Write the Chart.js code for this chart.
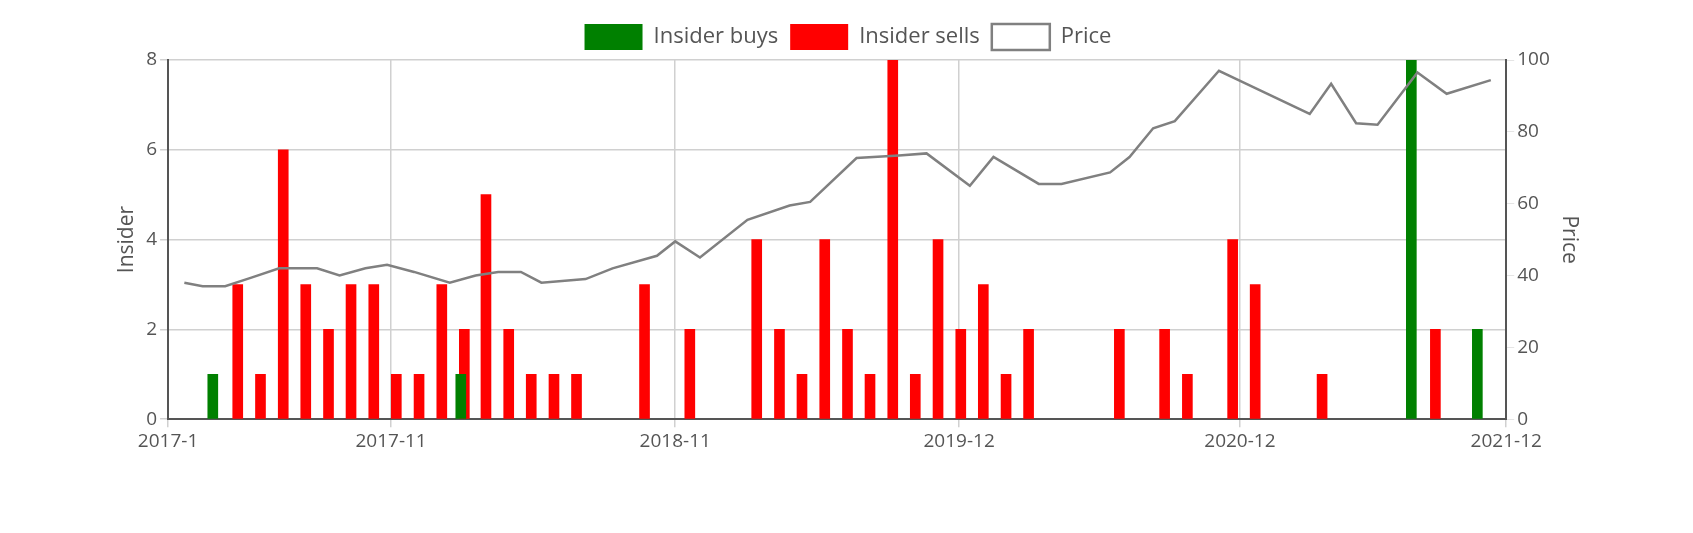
<!DOCTYPE html>
<html><head><meta charset="utf-8">
<script src="https://cdn.jsdelivr.net/npm/chart.js@4"></script>
<style>html,body{margin:0;background:#fff}#w{width:1693px;height:533px}</style>
</head><body><div id="w"><canvas id="c"></canvas></div>
<script>
const tickPos=[0,10,22.74,35.47,48.06,60];
const tickLabels=['2017-1','2017-11','2018-11','2019-12','2020-12','2021-12'];
const buyX=[2.23,13.35,55.97,58.93];
const buyY=[1,1,8,2];
const sellX=[2.9,3.92,4.94,5.95,6.97,7.98,9.0,10.01,11.03,12.05,13.06,14.03,15.05,16.06,17.08,18.09,21.14,23.17,26.17,27.19,28.2,29.22,30.24,31.25,32.27,33.28,34.3,35.32,36.33,37.35,38.36,42.43,44.46,45.48,47.51,48.52,51.52,56.6];
const sellY=[3,1,6,3,2,3,3,1,1,3,2,5,2,1,1,1,3,2,4,2,1,4,2,1,8,1,4,2,3,1,2,2,2,1,4,3,1,2];
const priceX=[0.73,1.55,2.56,3.77,4.98,5.95,6.68,7.69,8.85,9.82,11.03,12.63,13.79,14.8,15.82,16.74,18.72,19.93,21.92,22.74,23.85,25.98,27.87,28.79,30.87,32.77,34.01,35.95,37.01,39.04,40.06,42.24,43.11,44.17,45.14,47.12,48.14,51.19,52.15,53.27,54.23,56.02,57.33,59.31];
const priceY=[38,37,37,39.5,42,42,42,40,42,43,41,38,40,41,41,38,39,42,45.5,49.5,45,55.5,59.5,60.5,72.7,73.4,74,65,73,65.5,65.5,68.7,73,81,83,97,94,85,93.4,82.4,82,96.5,90.6,94.4];
const pts=(xs,ys)=>xs.map((x,i)=>({x,y:ys[i]}));
const F="'Open Sans', sans-serif", C='#555';
new Chart(document.getElementById('c'),{
data:{datasets:[
 {type:'bar',label:'Insider buys',data:pts(buyX,buyY),backgroundColor:'#008000',barThickness:10,yAxisID:'y',order:2},
 {type:'bar',label:'Insider sells',data:pts(sellX,sellY),backgroundColor:'#ff0000',barThickness:10,yAxisID:'y',order:2},
 {type:'line',label:'Price',data:pts(priceX,priceY),borderColor:'#808080',backgroundColor:'#fff',borderWidth:2.5,pointRadius:0,tension:0,yAxisID:'y1',order:1}
]},
options:{responsive:true,maintainAspectRatio:false,animation:false,
 layout:{padding:{left:110,right:107,top:12,bottom:77}},
 plugins:{legend:{position:'top',labels:{boxWidth:58,boxHeight:26,font:{family:F,size:22},color:C,padding:12,sort:(a,b)=>a.datasetIndex-b.datasetIndex}},tooltip:{enabled:false}},
 scales:{
  x:{type:'linear',min:0,max:60,offset:false,
   afterBuildTicks:a=>{a.ticks=tickPos.map(v=>({value:v}));},
   ticks:{autoSkip:false,maxRotation:0,font:{family:F,size:19},color:C,callback:(v)=>{const i=tickPos.indexOf(v);return i>=0?tickLabels[i]:'';}},
   grid:{offset:false,color:'#d0d0d0',lineWidth:1.5},border:{color:'#555',width:2}},
  y:{position:'left',min:0,max:8,ticks:{stepSize:2,font:{family:F,size:19},color:C},grid:{color:'#d0d0d0',lineWidth:1.5},border:{color:'#555',width:2},
   title:{display:true,text:'Insider',font:{family:F,size:21},color:C}},
  y1:{position:'right',min:0,max:100,ticks:{stepSize:20,font:{family:F,size:19},color:C},grid:{drawOnChartArea:false},border:{color:'#555',width:2},
   title:{display:true,text:'Price',font:{family:F,size:21},color:C}}
 }}
});
</script></body></html>
